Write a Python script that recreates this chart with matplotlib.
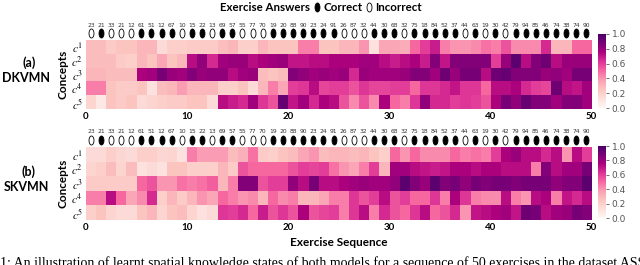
import numpy as np
import matplotlib.pyplot as plt

plt.rcParams['font.family'] = ['Lato', 'DejaVu Sans']
plt.rcParams['mathtext.fontset'] = 'stix'

# Exercise sequence shown above each heatmap.
exercise_ids = [23, 21, 33, 21, 12, 61, 51, 12, 67, 10,
                15, 22, 13, 69, 57, 55, 77, 70, 19, 20,
                88, 90, 23, 24, 91, 26, 87, 32, 44, 30,
                68, 32, 75, 18, 84, 52, 37, 44, 63, 19,
                30, 42, 79, 94, 85, 46, 74, 38, 74, 90]
answers = [0, 1, 0, 0, 0, 1, 1, 1, 1, 0,
           1, 1, 0, 1, 1, 0, 0, 0, 1, 1,
           1, 1, 1, 1, 1, 0, 0, 0, 1, 1,
           1, 0, 1, 1, 1, 1, 1, 0, 1, 0,
           1, 0, 1, 1, 1, 1, 1, 1, 1, 1]

concept_labels = [r'$c^1$', r'$c^2$', r'$c^3$', r'$c^4$', r'$c^5$']
x_ticks = [0, 10, 20, 30, 40, 50]

# Knowledge state of each concept (rows) after each exercise (columns).
dkvmn_c1 = [0.28, 0.28, 0.22, 0.25, 0.25, 0.30, 0.30, 0.15, 0.20, 0.20,
            0.22, 0.22, 0.22, 0.27, 0.30, 0.20, 0.20, 0.30, 0.25, 0.25,
            0.25, 0.45, 0.45, 0.25, 0.25, 0.30, 0.30, 0.40, 0.12, 0.35,
            0.35, 0.33, 0.50, 0.60, 0.68, 0.45, 0.40, 0.40, 0.42, 0.48,
            0.45, 0.55, 0.42, 0.42, 0.42, 0.65, 0.30, 0.30, 0.50, 0.50]
dkvmn_c2 = [0.28, 0.28, 0.28, 0.22, 0.20, 0.30, 0.25, 0.35, 0.25, 0.30,
            0.72, 0.82, 0.65, 0.78, 0.80, 0.80, 0.72, 0.75, 0.78, 0.80,
            0.70, 0.70, 0.72, 0.72, 0.75, 0.75, 0.75, 0.78, 0.78, 0.72,
            0.68, 0.72, 0.75, 0.68, 0.85, 0.70, 0.85, 0.85, 0.85, 0.85,
            0.60, 0.80, 0.95, 0.72, 0.85, 0.90, 0.72, 0.80, 0.80, 0.80]
dkvmn_c3 = [0.30, 0.30, 0.28, 0.28, 0.28, 0.75, 0.78, 0.88, 0.80, 0.78,
            0.85, 0.80, 0.82, 0.82, 0.72, 0.78, 0.80, 0.28, 0.25, 0.28,
            0.85, 0.82, 0.78, 0.80, 0.78, 0.80, 0.65, 0.80, 0.78, 0.78,
            0.78, 0.80, 0.85, 0.85, 0.78, 0.90, 0.80, 0.88, 0.88, 0.72,
            0.90, 0.92, 0.85, 0.85, 0.85, 0.80, 0.82, 0.78, 0.88, 0.88]
dkvmn_c4 = [0.45, 0.45, 0.25, 0.22, 0.22, 0.25, 0.12, 0.28, 0.30, 0.38,
            0.30, 0.30, 0.30, 0.20, 0.20, 0.25, 0.15, 0.30, 0.45, 0.35,
            0.60, 0.62, 0.72, 0.58, 0.60, 0.60, 0.55, 0.62, 0.58, 0.58,
            0.60, 0.60, 0.50, 0.62, 0.62, 0.65, 0.70, 0.62, 0.62, 0.50,
            0.72, 0.72, 0.75, 0.65, 0.60, 0.58, 0.90, 0.72, 0.70, 0.78]
dkvmn_c5 = [0.18, 0.08, 0.25, 0.22, 0.25, 0.15, 0.18, 0.20, 0.22, 0.22,
            0.25, 0.25, 0.15, 0.72, 0.68, 0.65, 0.78, 0.62, 0.55, 0.92,
            0.70, 0.78, 0.65, 0.75, 0.72, 0.55, 0.42, 0.55, 0.42, 0.75,
            0.50, 0.45, 0.62, 0.82, 0.65, 0.65, 0.60, 0.62, 0.60, 0.55,
            0.75, 0.88, 0.82, 0.92, 0.85, 0.85, 0.78, 0.85, 0.85, 0.78]

skvmn_c1 = [0.15, 0.15, 0.20, 0.17, 0.15, 0.20, 0.20, 0.17, 0.18, 0.12,
            0.45, 0.38, 0.38, 0.38, 0.28, 0.32, 0.48, 0.22, 0.20, 0.25,
            0.28, 0.35, 0.40, 0.28, 0.30, 0.30, 0.28, 0.30, 0.25, 0.20,
            0.50, 0.40, 0.50, 0.42, 0.42, 0.42, 0.50, 0.45, 0.48, 0.45,
            0.60, 0.75, 0.80, 0.72, 0.72, 0.65, 0.72, 0.40, 0.72, 0.60]
skvmn_c2 = [0.18, 0.20, 0.28, 0.18, 0.28, 0.12, 0.15, 0.12, 0.25, 0.25,
            0.20, 0.20, 0.20, 0.30, 0.22, 0.55, 0.50, 0.50, 0.50, 0.50,
            0.55, 0.60, 0.58, 0.60, 0.48, 0.40, 0.35, 0.45, 0.60, 0.30,
            0.78, 0.78, 0.72, 0.70, 0.68, 0.70, 0.75, 0.75, 0.72, 0.75,
            0.75, 0.72, 0.72, 0.72, 0.45, 0.85, 0.72, 0.78, 0.78, 0.88]
skvmn_c3 = [0.22, 0.22, 0.22, 0.22, 0.22, 0.50, 0.55, 0.40, 0.40, 0.48,
            0.45, 0.48, 0.52, 0.30, 0.45, 0.85, 0.85, 0.55, 0.60, 0.60,
            0.82, 0.72, 0.88, 0.72, 0.72, 0.75, 0.78, 0.80, 0.78, 0.78,
            0.82, 0.95, 0.85, 0.80, 0.95, 0.85, 0.88, 0.82, 0.88, 0.85,
            0.88, 0.88, 0.85, 0.88, 0.88, 0.88, 0.82, 0.85, 0.85, 0.95]
skvmn_c4 = [0.45, 0.45, 0.72, 0.50, 0.35, 0.42, 0.65, 0.20, 0.30, 0.22,
            0.30, 0.40, 0.35, 0.50, 0.45, 0.40, 0.42, 0.30, 0.50, 0.42,
            0.45, 0.30, 0.30, 0.35, 0.45, 0.45, 0.62, 0.55, 0.60, 0.72,
            0.55, 0.60, 0.50, 0.50, 0.62, 0.45, 0.75, 0.62, 0.45, 0.42,
            0.42, 0.72, 0.45, 0.40, 0.72, 0.75, 0.45, 0.70, 0.65, 0.72]
skvmn_c5 = [0.20, 0.25, 0.18, 0.15, 0.15, 0.25, 0.30, 0.18, 0.25, 0.28,
            0.18, 0.12, 0.15, 0.62, 0.60, 0.65, 0.50, 0.68, 0.55, 0.62,
            0.55, 0.75, 0.55, 0.58, 0.60, 0.45, 0.62, 0.72, 0.45, 0.65,
            0.55, 0.50, 0.62, 0.72, 0.50, 0.55, 0.65, 0.40, 0.70, 0.72,
            0.75, 0.78, 0.70, 0.90, 0.88, 0.72, 0.78, 0.80, 0.88, 0.85]

# Tall ellipse used as the answer marker.
theta = np.linspace(0, 2 * np.pi, 40)
ellipse = np.column_stack([0.55 * np.cos(theta), np.sin(theta)])


def draw_panel(ax, cax, rows, tag, model):
    """ Draws one knowledge-state heatmap with the answers on top. """
    data = np.array(rows)
    im = ax.imshow(data, cmap='RdPu', vmin=0, vmax=1, aspect='auto',
                   extent=(0, data.shape[1], data.shape[0], 0),
                   interpolation='nearest')
    for s in ax.spines.values():
        s.set_visible(False)

    ax.set_xticks(x_ticks)
    ax.set_xticklabels([str(t) for t in x_ticks], fontsize=7, fontweight='bold')
    ax.set_yticks(np.arange(len(concept_labels)) + 0.5)
    ax.set_yticklabels(concept_labels, fontsize=8.3)
    ax.tick_params(length=0, pad=2)
    ax.set_ylabel('Concepts', fontsize=8.5, fontweight='bold', labelpad=2)

    # Exercise ids and correct / incorrect markers.
    trans = ax.get_xaxis_transform()
    for i, (ex, ok) in enumerate(zip(exercise_ids, answers)):
        ax.text(i + 0.5, 1.21, str(ex), transform=trans, fontsize=4.3,
                ha='center', va='center', color='#333333',
                family='DejaVu Sans')
        ax.plot(i + 0.5, 1.10, marker=ellipse, markersize=6.5,
                markerfacecolor='black' if ok else 'white',
                markeredgecolor='black', markeredgewidth=0.6,
                transform=trans, clip_on=False)

    cb = plt.colorbar(im, cax=cax)
    cb.outline.set_visible(False)
    cb.set_ticks([0.0, 0.2, 0.4, 0.6, 0.8, 1.0])
    cax.tick_params(labelsize=6.5, length=2.5, width=0.6, colors='#555555',
                    pad=1.5)
    for lbl in cax.get_yticklabels():
        lbl.set_family('DejaVu Sans')

    pos = ax.get_position()
    yc = (pos.y0 + pos.y1) / 2
    fig.text(0.045, yc + 0.045, tag, fontsize=9, fontweight='bold',
             ha='center', va='center')
    fig.text(0.041, yc - 0.012, model, fontsize=9, fontweight='bold',
             ha='center', va='center')


fig = plt.figure(figsize=(6.4, 2.65), dpi=100)

ax_a = fig.add_axes([0.134, 0.589, 0.790, 0.260])
cax_a = fig.add_axes([0.935, 0.592, 0.012, 0.280])
ax_b = fig.add_axes([0.134, 0.170, 0.790, 0.275])
cax_b = fig.add_axes([0.935, 0.177, 0.012, 0.272])

draw_panel(ax_a, cax_a, [dkvmn_c1, dkvmn_c2, dkvmn_c3, dkvmn_c4, dkvmn_c5],
           '(a)', 'DKVMN')
draw_panel(ax_b, cax_b, [skvmn_c1, skvmn_c2, skvmn_c3, skvmn_c4, skvmn_c5],
           '(b)', 'SKVMN')

ax_b.set_xlabel('Exercise Sequence', fontsize=8.5, fontweight='bold',
                labelpad=4)

# Legend-like title line, laid out piece by piece from the measured widths.
renderer = fig.canvas.get_renderer()
title_y = 0.972
pieces = [('text', 'Exercise Answers'), ('mark', 1), ('text', 'Correct'),
          ('mark', 0), ('text', 'Incorrect')]
gap = 4  # pixels between pieces
mark_w = 5
widths = []
texts = []
for kind, val in pieces:
    if kind == 'text':
        t = fig.text(0, title_y, val, fontsize=8.3, fontweight='bold',
                     ha='left', va='center')
        texts.append(t)
        widths.append(t.get_window_extent(renderer).width)
    else:
        texts.append(None)
        widths.append(mark_w)
total = sum(widths) + gap * (len(widths) - 1)
x = 321 - total / 2
for (kind, val), w, t in zip(pieces, widths, texts):
    if kind == 'text':
        t.set_x(x / 640)
    else:
        fig.lines.append(plt.Line2D([(x + w / 2) / 640], [title_y],
                                    marker=ellipse, markersize=6.5,
                                    markerfacecolor='black' if val else 'white',
                                    markeredgecolor='black',
                                    markeredgewidth=0.6,
                                    transform=fig.transFigure))
    x += w + gap

# Start of the figure caption, cut by the bottom edge as in the original.
fig.text(0.0, 0.032, '1: An illustration of learnt spatial knowledge states of both models for a sequence of 50 exercises in the dataset ASSIST',
         fontsize=10, family='Liberation Serif', ha='left', va='top')

fig.savefig('out.png', dpi=100)
